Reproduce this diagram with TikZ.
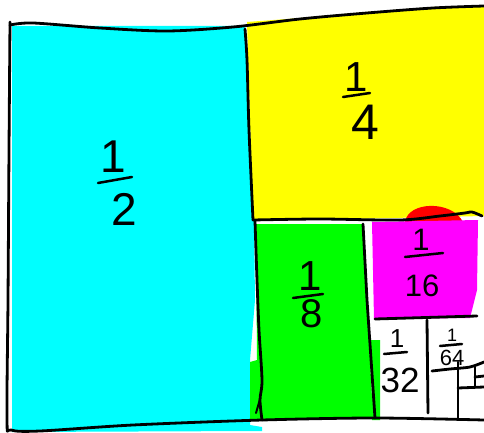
\documentclass[tikz,border=0pt]{standalone}
\usepackage{fontspec}
\setmainfont{Liberation Sans}
\definecolor{cyanF}{RGB}{0,255,255}
\definecolor{yellowF}{RGB}{255,255,0}
\definecolor{greenF}{RGB}{0,255,0}
\definecolor{magentaF}{RGB}{255,0,255}
\definecolor{redF}{RGB}{255,0,0}
\tikzset{
  pen/.style={line width=2.8pt, line cap=round, line join=round, black},
  barpen/.style={line width=2.5pt, line cap=round, black},
  digit/.style={inner sep=0pt, anchor=center, text=black},
}
\begin{document}
\begin{tikzpicture}[x=1pt,y=-1pt]
\useasboundingbox (0,0) rectangle (484,433);
% fills
\fill[cyanF] (12,26) -- (245,26) -- (248,100) -- (254,220) -- (255,300) -- (250,360) -- (250,425) -- (262,427) -- (262,431) -- (12,432) -- cycle;
\fill[yellowF] (247,22) -- (300,18) -- (367,12) -- (433,7) -- (484,6) -- (484,216) -- (253,221) -- cycle;
\fill[redF] (405,222) .. controls (408,201) and (452,200) .. (463,222) -- cycle;
\fill[greenF] (256,224) -- (363,224) -- (373,418) -- (258,420) -- (250,420) -- (250,362) -- (257,360) -- cycle;
\fill[greenF] (371,340) -- (380,340) -- (380,420) -- (372,420) -- cycle;
\fill[magentaF] (372,222) -- (478,220) -- (477,290) -- (470,318) -- (374,319) -- cycle;
% lines
\draw[pen] plot[smooth] coordinates {(10,25) (33,23) (100,28) (167,31) (233,27) (300,19) (367,13) (433,8) (484,6)};
\draw[pen] plot[smooth] coordinates {(10,22) (9,150) (8,300) (7,420) (11,430) (40,431) (133,425) (262,420) (375,418) (484,420)};
\draw[pen] plot[smooth] coordinates {(245,29) (247,60) (249,130) (253,220)};
\draw[pen] plot[smooth] coordinates {(253,220) (320,219) (400,220) (440,216) (465,213) (472,212) (482,216)};
\draw[pen] plot[smooth] coordinates {(255,221) (257,280) (259,330) (262,380) (260,400) (262,420)};
\draw[pen, line width=2pt] (260,399) -- (256,413);
\draw[pen] (363,224) -- (367,300) -- (375,418);
\draw[pen] (375,319) -- (477,316);
\draw[pen] (427,320) -- (428,413);
\draw[pen] plot[smooth] coordinates {(432,371) (450,369) (470,367) (484,362)};
\draw[pen] (458,362) -- (458,418);
\draw[pen] (458,388) -- (484,387);
\draw[pen] (475,367) -- (475,386);
\draw[pen] (475,377) -- (484,376);
% fractions
\node[digit, font=\fontsize{46}{50}\selectfont] (n2) at (113,157) {1};
\draw[barpen] (98,183) -- (132,177);
\node[digit, font=\fontsize{46}{50}\selectfont] (d2) at (124,209) {2};
\node[digit, font=\fontsize{42}{46}\selectfont] (n4) at (356,77) {1};
\draw[barpen] (343,97) -- (370,93);
\node[digit, font=\fontsize{50}{54}\selectfont] (d4) at (365,122) {4};
\node[digit, font=\fontsize{42}{46}\selectfont] (n8) at (310,276) {1};
\draw[barpen] (293,298) -- (323,294);
\node[digit, font=\fontsize{40}{44}\selectfont] (d8) at (312,314) {8};
\node[digit, font=\fontsize{31}{35}\selectfont] (n16) at (421,240) {1};
\draw[barpen] (405,257) -- (443,253);
\node[digit, font=\fontsize{31}{35}\selectfont] (d16) at (422,286) {16};
\node[digit, font=\fontsize{26}{30}\selectfont] (n32) at (397,339) {1};
\draw[barpen] (384,354) -- (407,352);
\node[digit, font=\fontsize{35}{39}\selectfont] (d32) at (400,380) {32};
\node[digit, font=\fontsize{18}{22}\selectfont] (n64) at (452,335) {1};
\draw[barpen] (440,346) -- (462,344);
\node[digit, font=\fontsize{22}{26}\selectfont] (d64) at (452,358) {64};
\end{tikzpicture}
\end{document}
